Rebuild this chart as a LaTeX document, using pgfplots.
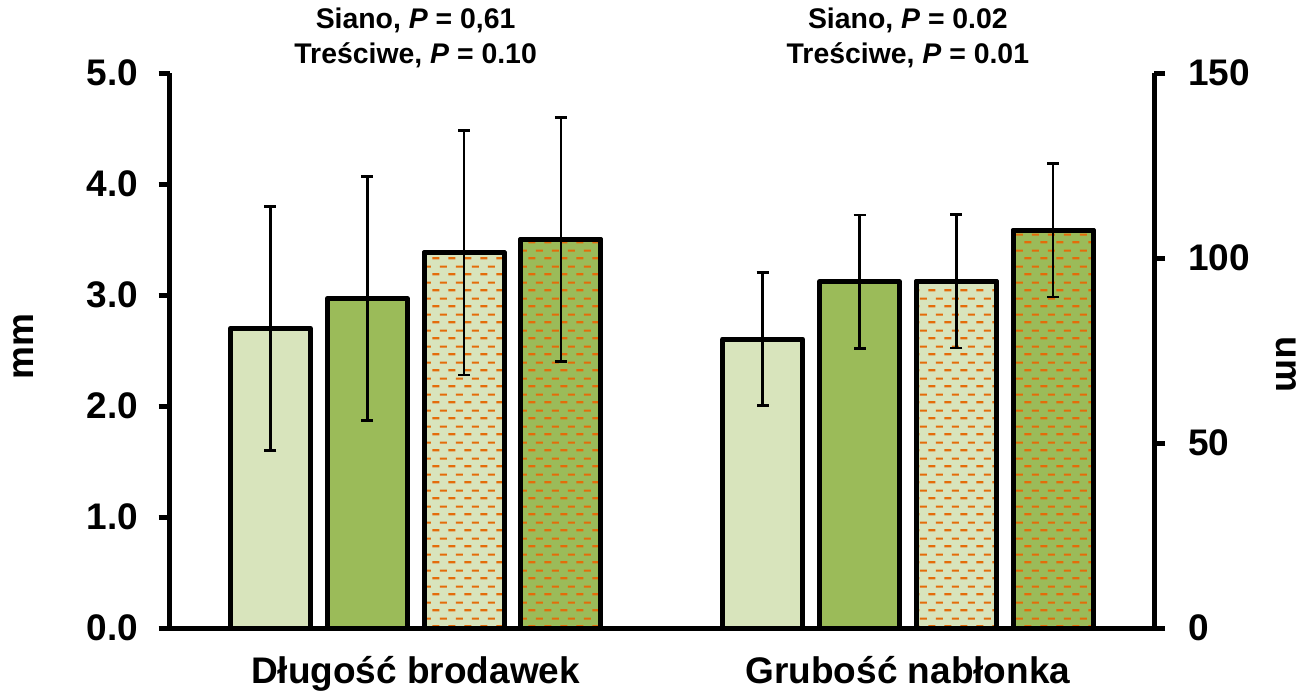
\documentclass[border=0pt]{standalone}
\usepackage{fontspec}
\setmainfont{Liberation Sans}
\usepackage{pgfplots}
\pgfplotsset{compat=1.18}
\usetikzlibrary{patterns}

\definecolor{lgreen}{HTML}{D8E4BC}
\definecolor{dgreen}{HTML}{9BBB59}
\definecolor{dashorange}{HTML}{E46C0A}

% staggered short horizontal dashes
\pgfdeclarepatternformonly{hdash}{\pgfqpoint{0pt}{0pt}}{\pgfqpoint{8pt}{8pt}}{\pgfqpoint{8pt}{8pt}}{%
  \pgfsetlinewidth{1.1pt}%
  \pgfsetbuttcap
  \pgfpathmoveto{\pgfqpoint{0.15pt}{2pt}}\pgfpathlineto{\pgfqpoint{3.85pt}{2pt}}%
  \pgfpathmoveto{\pgfqpoint{4.15pt}{6pt}}\pgfpathlineto{\pgfqpoint{7.85pt}{6pt}}%
  \pgfusepath{stroke}}

\newcommand{\bigfont}{\bfseries\fontsize{18.5}{21}\selectfont}
\newcommand{\titlefont}{\bfseries\fontsize{14.2}{17.3}\selectfont}

\pgfplotsset{
  barstyle/.style={ybar, bar width=40pt, bar shift=0pt, draw=black,
    line width=2.5pt, line join=round,
    error bars/y dir=both, error bars/y explicit,
    error bars/error bar style={line width=1.3pt, black, line join=miter},
    error bars/error mark options={rotate=90, mark size=3pt, line width=1.3pt, black}},
  dashed bar/.style={preaction={fill=#1}, pattern=hdash, pattern color=dashorange},
  common/.style={scale only axis, width=492.25pt, height=277.5pt,
    xmin=-0.5, xmax=1.5, ymin=0, clip=false,
    axis line style={-, line width=2.5pt, black},
    tick align=outside, major tick length=5.5pt,
    ytick style={line width=2.5pt, black},
    ticklabel style={font=\bigfont},
    /pgf/number format/assume math mode=true},
}

\begin{document}
\begin{tikzpicture}
\useasboundingbox (-84.75pt,-32.5pt) rectangle (567.25pt,314pt);

% left axis: papilla length (mm)
\begin{axis}[common, name=main,
  ymax=5, ytick={0,1,...,5},
  axis y line*=left, axis x line*=bottom,
  yticklabel style={xshift=-6.5pt, /pgf/number format/.cd, fixed, fixed zerofill, precision=1},
  xtick={0,1}, xticklabels={Długość brodawek, Grubość nabłonka},
  major x tick style={draw=none},
  xticklabel style={anchor=base, yshift=-22pt},
]
\addplot[barstyle, fill=lgreen] coordinates {(-0.295,2.70) +- (0,1.10)};
\addplot[barstyle, fill=dgreen] coordinates {(-0.0983,2.97) +- (0,1.10)};
\addplot[barstyle, dashed bar=lgreen] coordinates {(0.0983,3.38) +- (0,1.10)};
\addplot[barstyle, dashed bar=dgreen] coordinates {(0.295,3.50) +- (0,1.10)};

\node[align=center, font=\titlefont] at (axis cs:0,5) [yshift=17.5pt]
  {Siano, \textit{P} = 0,61\\Treściwe, \textit{P} = 0.10};
\node[align=center, font=\titlefont] at (axis cs:1,5) [yshift=17.5pt]
  {Siano, \textit{P} = 0.02\\Treściwe, \textit{P} = 0.01};
\end{axis}

% right axis: epithelium thickness (um)
\begin{axis}[common,
  ymax=150, ytick={0,50,100,150},
  axis y line*=right, axis x line=none,
  yticklabel style={xshift=8pt},
]
\addplot[barstyle, fill=lgreen] coordinates {(0.705,78.1) +- (0,18.0)};
\addplot[barstyle, fill=dgreen] coordinates {(0.9017,93.6) +- (0,18.0)};
\addplot[barstyle, dashed bar=lgreen] coordinates {(1.0983,93.7) +- (0,18.0)};
\addplot[barstyle, dashed bar=dgreen] coordinates {(1.295,107.5) +- (0,18.0)};
\end{axis}

\node[rotate=90, font=\bigfont] at ([xshift=-73pt, yshift=2pt]main.west) {mm};
\node[rotate=-90, font=\bigfont] at ([xshift=66pt, yshift=-7pt]main.east) {um};
\end{tikzpicture}
\end{document}
